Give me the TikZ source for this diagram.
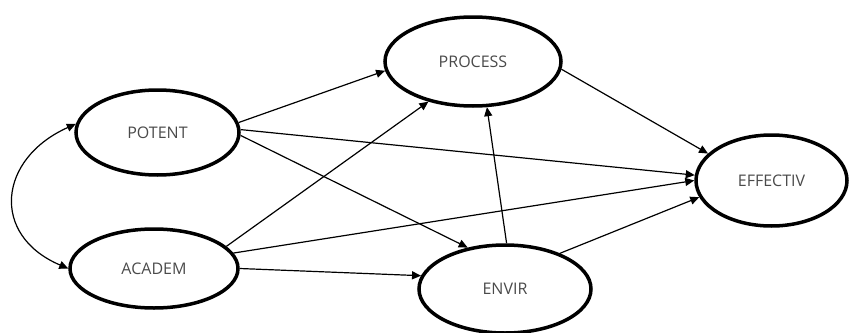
\documentclass[tikz,border=0pt]{standalone}
\usepackage{fontspec}
\setmainfont{Open Sans}
\usetikzlibrary{shapes.geometric,arrows.meta}
\definecolor{txt}{HTML}{4A4A4A}
\tikzset{
  latent/.style={ellipse, draw=black, line width=3.5pt, inner sep=0pt,
    font=\fontsize{16}{18}\selectfont, text=txt},
  path/.style={line width=1.2pt, -{Triangle[length=9pt,width=8pt]}},
}
\begin{document}
\begin{tikzpicture}[x=1pt,y=1pt]
\useasboundingbox (0,0) rectangle (851,-332);
\node[latent, minimum width=176pt, minimum height=89pt] (process) at (473,-61.5) {PROCESS};
\node[latent, minimum width=163pt, minimum height=85pt] (potent) at (157.5,-132.5) {POTENT};
\node[latent, minimum width=168pt, minimum height=79pt] (academ) at (154,-268.5) {ACADEM};
\node[latent, minimum width=172pt, minimum height=88pt] (envir) at (505,-289) {ENVIR};
\node[latent, minimum width=151pt, minimum height=91pt] (effectiv) at (771.5,-180.5) {EFFECTIV};

\draw[path] (potent.7) -- (process.186);
\draw[path] (potent.2) -- (effectiv.176);
\draw[path] (potent.-2) -- (envir.132);
\draw[path] (academ.17) -- (process.222);
\draw[path] (academ.11) -- (effectiv.180);
\draw[path] (academ.0) -- (envir.171);
\draw[path] (envir.88) -- (process.287);
\draw[path] (envir.33) -- (effectiv.193);
\draw[path] (process.355) -- (effectiv.157);
\draw[line width=1.2pt, {Triangle[length=9pt,width=8pt]}-{Triangle[length=9pt,width=8pt]}]
  (academ.west) .. controls +(157:85) and +(204:85) .. (potent.174);
\end{tikzpicture}
\end{document}
